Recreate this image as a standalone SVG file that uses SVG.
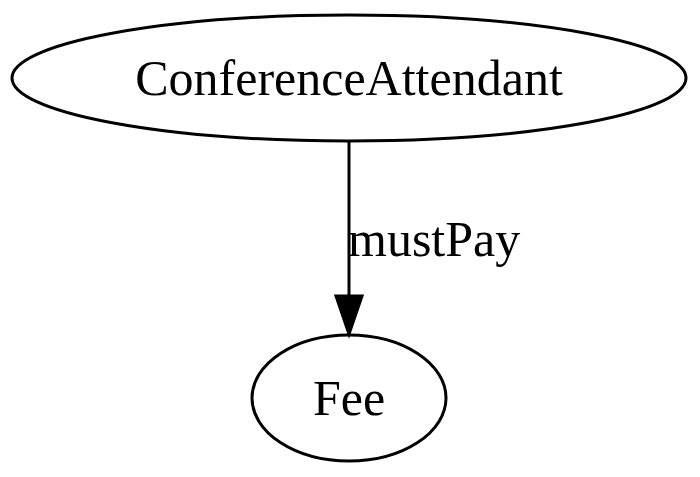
<svg xmlns="http://www.w3.org/2000/svg" width="700" height="477" viewBox="0 0 700 477">
<style>
.node ellipse{fill:none;stroke:#000;stroke-width:3}
text{font-family:"Liberation Serif","Times New Roman",serif;font-size:50px;fill:#000}
.edge path{fill:none;stroke:#000;stroke-width:3}
.edge polygon{fill:#000;stroke:#000;stroke-width:3}
</style>
<rect width="700" height="477" fill="#fff"/>
<g id="edges">
<g class="edge" id="edge1">
<path d="M349,141 L349,296"/>
<polygon points="336,296 349,334 362,296"/>
<text x="348" y="256">mustPay</text>
</g>
</g>
<g class="node" id="ConferenceAttendant">
<ellipse cx="349" cy="78" rx="337" ry="63"/>
<text x="349" y="95" text-anchor="middle">ConferenceAttendant</text>
</g>
<g class="node" id="Fee">
<ellipse cx="349" cy="398" rx="97" ry="63"/>
<text x="349" y="415" text-anchor="middle">Fee</text>
</g>
</svg>
